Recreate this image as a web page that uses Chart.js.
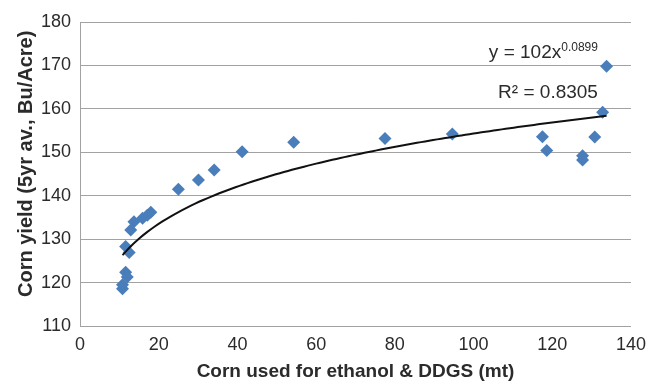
<!DOCTYPE html>
<html>
<head>
<meta charset="utf-8">
<script src="https://cdn.jsdelivr.net/npm/chart.js@4/dist/chart.umd.min.js"></script>
<style>
  html, body { margin: 0; padding: 0; background: #fff; }
  #wrap { width: 654px; height: 381px; }
</style>
</head>
<body>
<div id="wrap"><canvas id="chart" width="654" height="381"></canvas></div>
<script>
// Corn used for ethanol & DDGS (mt) vs corn yield (5yr av., Bu/Acre)
const cornUsed = [10.8, 10.8, 11.6, 12.0, 11.6, 12.5, 12.9, 13.7, 15.9, 17.1, 18.0,
    25.0, 30.1, 34.1, 41.2, 54.3, 77.5, 94.6, 117.5, 118.6, 127.7, 127.7, 130.8, 132.8, 133.8];
const cornYield = [118.6, 119.5, 122.4, 121.3, 128.3, 126.9, 132.1, 134.0, 134.8, 135.5, 136.2,
    141.5, 143.6, 145.9, 150.1, 152.3, 153.2, 154.2, 153.6, 150.4, 149.2, 148.2, 153.5, 159.2, 169.8];

const xTicks = [0, 20, 40, 60, 80, 100, 120, 140];
const yTicks = [110, 120, 130, 140, 150, 160, 170, 180];

const xTitle = 'Corn used for ethanol & DDGS (mt)';
const yTitle = 'Corn yield (5yr av., Bu/Acre)';

// power trendline shown on the chart: y = 102 x^0.0899, R² = 0.8305
const trendA = 102;
const trendB = 0.0899;
const trendR2 = '0.8305';

const FONT = "'Liberation Sans', Arial, sans-serif";
const COLORS = {
    point: '#4A7EBB',
    trend: '#111111',
    grid: '#a2a2a2',
    text: '#2b2b2b',
};

const scatterData = cornUsed.map((x, i) => ({ x, y: cornYield[i] }));

const xMin = Math.min(...cornUsed);
const xMax = Math.max(...cornUsed);
const trendData = [];
for (let i = 0; i <= 60; i++) {
    const x = xMin + (xMax - xMin) * i / 60;
    trendData.push({ x, y: trendA * Math.pow(x, trendB) });
}

// equation + R² labels (anchored in data units), and the y axis title,
// which sits a bit above the plot's middle in the original
const annotations = {
    id: 'annotations',
    afterDatasetsDraw(chart) {
        const { ctx, scales: { x, y } } = chart;
        ctx.save();
        ctx.fillStyle = COLORS.text;
        ctx.textBaseline = 'alphabetic';

        const right = x.getPixelForValue(131.6);
        const base1 = y.getPixelForValue(171.6);
        ctx.font = `12px ${FONT}`;
        ctx.textAlign = 'right';
        ctx.fillText(trendB.toString(), right, base1 - 7);
        const supW = ctx.measureText(trendB.toString()).width;
        ctx.font = `19px ${FONT}`;
        ctx.fillText(`y = ${trendA}x`, right - supW, base1);

        const base2 = y.getPixelForValue(162.4);
        ctx.fillText(`R² = ${trendR2}`, right, base2);

        ctx.translate(26, chart.height * 0.43);
        ctx.rotate(-Math.PI / 2);
        ctx.font = `bold 20px ${FONT}`;
        ctx.textAlign = 'center';
        ctx.textBaseline = 'middle';
        ctx.fillText(yTitle, 0, 0);
        ctx.restore();
    },
};

new Chart(document.getElementById('chart'), {
    type: 'scatter',
    data: {
        datasets: [
            {
                label: 'Corn yield',
                data: scatterData,
                backgroundColor: COLORS.point,
                borderColor: COLORS.point,
                pointStyle: 'rectRot',
                pointRadius: 6.5,
                pointBorderWidth: 0,
                order: 1,
            },
            {
                label: 'Power trend',
                type: 'line',
                data: trendData,
                borderColor: COLORS.trend,
                borderWidth: 2,
                pointRadius: 0,
                fill: false,
                tension: 0.3,
                order: 0,
            },
        ],
    },
    options: {
        responsive: false,
        animation: false,
        layout: { padding: { top: 22, right: 23, left: 0, bottom: 0 } },
        plugins: {
            legend: { display: false },
            tooltip: { enabled: false },
        },
        scales: {
            x: {
                type: 'linear',
                min: xTicks[0],
                max: xTicks[xTicks.length - 1],
                afterBuildTicks: (s) => { s.ticks = xTicks.map((v) => ({ value: v })); },
                afterFit: (s) => { s.height = 55; },
                grid: { display: false, drawTicks: false },
                border: { color: COLORS.grid, width: 1 },
                ticks: { font: { family: FONT, size: 18 }, color: COLORS.text, padding: 8 },
                title: {
                    display: true,
                    text: xTitle,
                    font: { family: FONT, size: 19, weight: 'bold', lineHeight: 1 },
                    color: COLORS.text,
                    padding: { top: 0, bottom: 0 },
                },
            },
            y: {
                type: 'linear',
                min: yTicks[0],
                max: yTicks[yTicks.length - 1],
                afterBuildTicks: (s) => { s.ticks = yTicks.map((v) => ({ value: v })); },
                afterFit: (s) => { s.width = 80; },
                grid: { color: COLORS.grid, lineWidth: 1, drawTicks: false },
                border: { color: COLORS.grid, width: 1 },
                ticks: { font: { family: FONT, size: 18 }, color: COLORS.text, padding: 9 },
                title: { display: false },
            },
        },
    },
    plugins: [annotations],
});
</script>
</body>
</html>
